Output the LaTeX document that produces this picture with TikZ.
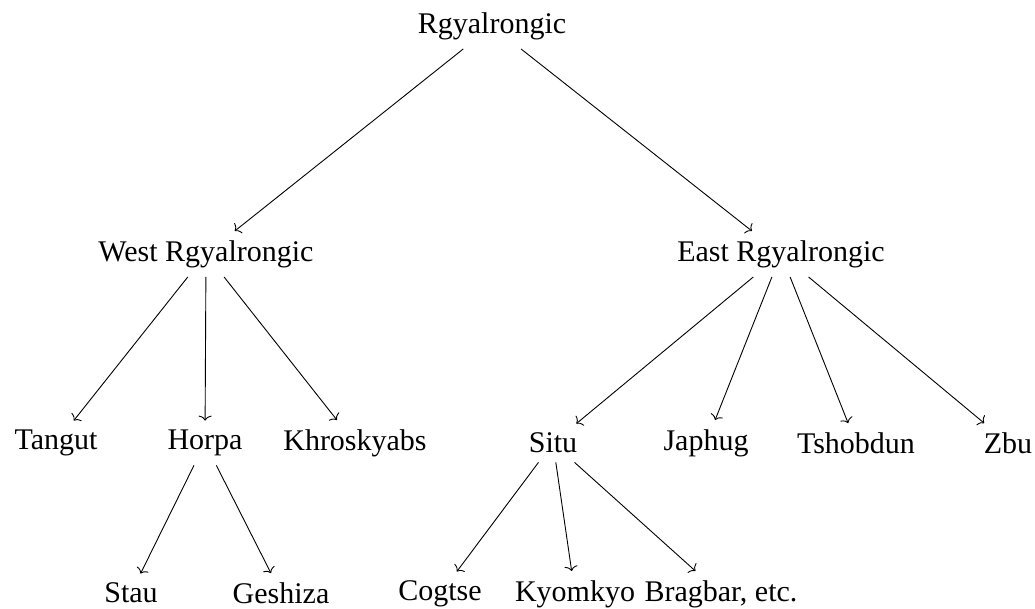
\documentclass[tikz,border=0pt]{standalone}
\usepackage{fontspec}
\setmainfont{Liberation Serif}
\usetikzlibrary{arrows.meta}
\begin{document}
\begin{tikzpicture}[x=1pt, y=-1pt,
  lang/.style={font=\fontsize{30}{36}\selectfont, inner sep=0.3333em, outer sep=6pt},
  branch/.style={-{To[length=5pt, width=13pt]}, line width=0.9pt}]
\useasboundingbox (0,0) rectangle (1035,608);
% top level
\node[lang] (rg) at (492,26) {Rgyalrongic};
% second level
\node[lang] (west) at (206,254) {West Rgyalrongic};
\node[lang] (east) at (781,254) {East Rgyalrongic};
% third level
\node[lang] (tangut) at (56,443) {Tangut};
\node[lang] (horpa) at (205,443) {Horpa};
\node[lang] (khro) at (355,443) {Khroskyabs};
\node[lang] (situ) at (553,443) {Situ};
\node[lang] (japhug) at (706,443) {Japhug};
\node[lang] (tshob) at (856,443) {Tshobdun};
\node[lang] (zbu) at (1008,443) {Zbu};
% fourth level
\node[lang] (stau) at (131,593) {Stau};
\node[lang] (geshiza) at (281,593) {Geshiza};
\node[lang] (cogtse) at (440,594) {Cogtse};
\node[lang] (kyom) at (575,594) {Kyomkyo};
\node[lang] (brag) at (721,594) {Bragbar, etc.};
% branches
\draw[branch] (rg) -- (west);
\draw[branch] (rg) -- (east);
\draw[branch] (west) -- (tangut);
\draw[branch] (west) -- (horpa);
\draw[branch] (west) -- (khro);
\draw[branch] (east) -- (situ);
\draw[branch] (east) -- (japhug);
\draw[branch] (east) -- (tshob);
\draw[branch] (east) -- (zbu);
\draw[branch] (horpa) -- (stau);
\draw[branch] (horpa) -- (geshiza);
\draw[branch] (situ) -- (cogtse);
\draw[branch] (situ) -- (kyom);
\draw[branch] (situ) -- (brag);
\end{tikzpicture}
\end{document}
